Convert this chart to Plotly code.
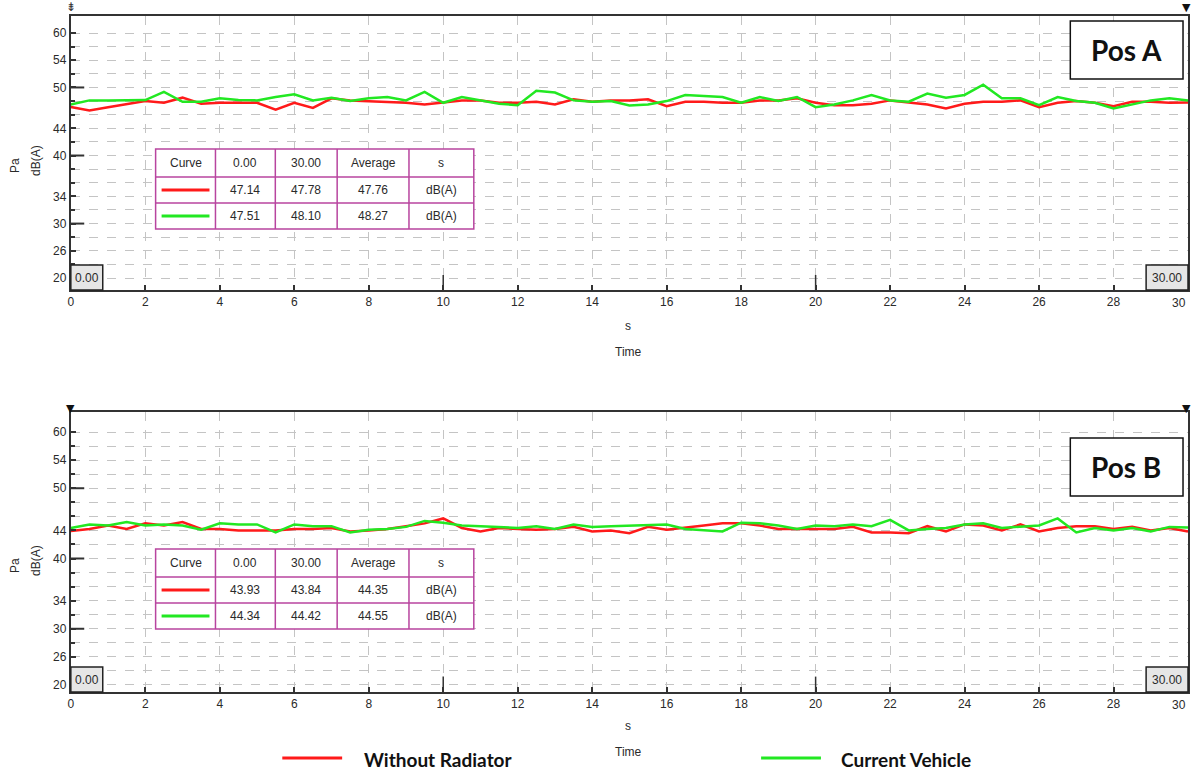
import plotly.graph_objects as go

W, H = 1192, 771

# ---------------- data ----------------
time_s = [i * 0.5 for i in range(61)]

posA_without_radiator = [
    47.14, 46.6, 47.1, 47.5, 48.0, 47.75, 48.5, 47.6, 47.75, 47.75,
    47.75, 46.75, 47.75, 47.0, 48.4, 48.1, 48.0, 47.9, 47.75, 47.5,
    47.75, 48.1, 48.1, 47.75, 47.75, 47.9, 47.5, 48.25, 47.9, 48.1,
    48.1, 48.25, 47.25, 47.9, 47.9, 47.75, 47.75, 48.1, 48.1, 48.4,
    47.75, 47.4, 47.4, 47.6, 48.1, 47.75, 47.5, 46.9, 47.6, 47.9,
    47.9, 48.1, 47.1, 47.75, 48.0, 47.75, 47.25, 47.9, 47.9, 47.75,
    47.78,
]
posA_current_vehicle = [
    47.51, 48.1, 48.1, 48.1, 48.15, 49.35, 47.9, 47.9, 48.4, 48.15,
    48.1, 48.6, 49.0, 48.1, 48.5, 48.0, 48.4, 48.6, 48.1, 49.35,
    47.75, 48.6, 48.1, 47.6, 47.4, 49.5, 49.25, 48.1, 47.9, 48.0,
    47.35, 47.5, 48.0, 48.9, 48.75, 48.6, 47.75, 48.6, 48.0, 48.6,
    47.1, 47.5, 48.1, 48.9, 48.1, 47.9, 49.1, 48.5, 48.9, 50.4,
    48.4, 48.4, 47.4, 48.6, 48.0, 47.75, 46.9, 47.5, 48.1, 48.4,
    48.10,
]
posB_without_radiator = [
    43.93, 44.2, 44.7, 44.2, 45.0, 44.7, 45.2, 44.2, 44.2, 44.0,
    44.0, 44.0, 44.2, 44.2, 44.35, 43.85, 44.0, 44.2, 44.6, 45.0,
    45.7, 44.35, 43.85, 44.35, 44.2, 44.1, 44.2, 44.5, 43.85, 44.0,
    43.6, 44.5, 44.1, 44.35, 44.7, 45.0, 45.0, 44.7, 44.2, 44.2,
    44.2, 44.2, 44.5, 43.7, 43.7, 43.6, 44.6, 43.85, 44.85, 44.7,
    44.0, 44.85, 43.85, 44.35, 44.6, 44.6, 44.2, 44.5, 44.0, 44.35,
    43.84,
]
posB_current_vehicle = [
    44.34, 44.85, 44.7, 45.2, 44.7, 44.85, 44.7, 44.1, 45.0, 44.85,
    44.85, 43.7, 44.85, 44.6, 44.6, 43.7, 44.1, 44.2, 44.5, 45.35,
    45.1, 44.7, 44.6, 44.5, 44.35, 44.6, 44.2, 44.85, 44.5, 44.6,
    44.7, 44.85, 44.85, 44.2, 44.0, 43.85, 45.1, 45.0, 44.7, 44.2,
    44.7, 44.6, 44.85, 44.6, 45.5, 44.0, 44.2, 44.35, 44.85, 45.0,
    44.35, 44.5, 44.7, 45.7, 43.7, 44.35, 44.0, 44.35, 43.85, 44.5,
    44.42,
]

series_names = ["Without Radiator", "Current Vehicle"]
series_colors = ["#ff1a1a", "#22e822"]

table_header = ["Curve", "0.00", "30.00", "Average", "s"]
tableA_rows = [["47.14", "47.78", "47.76", "dB(A)"],
               ["47.51", "48.10", "48.27", "dB(A)"]]
tableB_rows = [["43.93", "43.84", "44.35", "dB(A)"],
               ["44.34", "44.42", "44.55", "dB(A)"]]

y_tick_vals = [58, 54, 50, 44, 40, 34, 30, 26, 22]
y_tick_text = ["60", "54", "50", "44", "40", "34", "30", "26", "20"]
y_grid_vals = list(range(22, 59, 2))
x_tick_vals = list(range(0, 31, 2))
# the last label sits flush against the right edge, drawn separately
x_tick_text = [str(v) for v in x_tick_vals[:-1]] + [""]
x_last_label = str(x_tick_vals[-1])

# ---------------- helpers ----------------
def px(x):
    return x / W

def py(y):
    return 1 - y / H

FONT = "Liberation Sans"
TXT = "#2a2a2a"
X_RIGHT = 1188

def note(x, y, text, size=12, family=FONT, color=TXT, xanchor="center", **kw):
    return dict(x=px(x), y=py(y), xref="paper", yref="paper", text=text,
                showarrow=False, xanchor=xanchor, yanchor="middle",
                font=dict(family=family, size=size, color=color), **kw)

fig = go.Figure()

panels = [
    # axes, frame top/bottom px, label, table rows, vertical offset, label-box offset, data
    ("x", "y", 16, 290, "Pos A", tableA_rows, 0, 0, posA_without_radiator, posA_current_vehicle),
    ("x2", "y2", 412, 692, "Pos B", tableB_rows, 400, 417, posB_without_radiator, posB_current_vehicle),
]

shapes = []
annots = []

for xa, ya, top, bot, label, rows, off, boff, s_red, s_green in panels:
    for vals, name, col in zip([s_red, s_green], series_names, series_colors):
        fig.add_trace(go.Scatter(x=time_s, y=vals, mode="lines", name=name,
                                 line=dict(color=col, width=2.5),
                                 xaxis=xa, yaxis=ya, showlegend=False))

    # long ticks at 50, 40, 30
    for v in [50, 40, 30]:
        shapes.append(dict(type="line", xref=f"{xa} domain", yref=ya,
                           x0=0, x1=0.012, y0=v, y1=v,
                           line=dict(color="#333", width=2)))
    # long x ticks at 10 and 20
    for v in [10, 20]:
        shapes.append(dict(type="line", xref=xa, yref=f"{ya} domain",
                           x0=v, x1=v, y0=0, y1=0.055,
                           line=dict(color="#333", width=1.5)))

    # last x tick label, right aligned at the frame edge
    annots.append(note(X_RIGHT, bot + 13, x_last_label, xanchor="right"))

    # start / end boxes
    shapes.append(dict(type="rect", xref="paper", yref="paper",
                       x0=px(68), x1=px(100), y0=py(bot), y1=py(bot - 25),
                       fillcolor="#e6e6e6", line=dict(color="#222", width=1.5)))
    annots.append(note(84, bot - 12, "0.00"))
    shapes.append(dict(type="rect", xref="paper", yref="paper",
                       x0=px(X_RIGHT - 42), x1=px(X_RIGHT), y0=py(bot), y1=py(bot - 25),
                       fillcolor="#e6e6e6", line=dict(color="#222", width=1.5)))
    annots.append(note(X_RIGHT - 21, bot - 12, "30.00"))

    # position label box
    shapes.append(dict(type="rect", xref="paper", yref="paper",
                       x0=px(1070), x1=px(1183), y0=py(79 + boff), y1=py(21 + boff),
                       fillcolor="white", line=dict(color="#111", width=1.5)))
    annots.append(note(1126, 50 + boff, f"<b>{label}</b>", size=28,
                       family="Lato", color="#111"))

    # table
    cx = [153, 213, 273, 335, 407, 472]
    ry = [149 + off, 177 + off, 203 + off, 229 + off]
    shapes.append(dict(type="rect", xref="paper", yref="paper",
                       x0=px(cx[0]), x1=px(cx[-1]), y0=py(ry[-1]), y1=py(ry[0]),
                       fillcolor="white", line=dict(color="#b8449f", width=1.5)))
    for c in cx[1:-1]:
        shapes.append(dict(type="line", xref="paper", yref="paper",
                           x0=px(c), x1=px(c), y0=py(ry[-1]), y1=py(ry[0]),
                           line=dict(color="#b8449f", width=1.5)))
    for r in ry[1:-1]:
        shapes.append(dict(type="line", xref="paper", yref="paper",
                           x0=px(cx[0]), x1=px(cx[-1]), y0=py(r), y1=py(r),
                           line=dict(color="#b8449f", width=1.5)))
    for j, h in enumerate(table_header):
        annots.append(note((cx[j] + cx[j + 1]) / 2, (ry[0] + ry[1]) / 2, h))
    for i, row in enumerate(rows):
        yc = (ry[i + 1] + ry[i + 2]) / 2
        shapes.append(dict(type="line", xref="paper", yref="paper",
                           x0=px(159), x1=px(207), y0=py(yc), y1=py(yc),
                           line=dict(color=series_colors[i], width=3)))
        for j, v in enumerate(row):
            annots.append(note((cx[j + 1] + cx[j + 2]) / 2, yc, v))

    # axis titles
    annots.append(note(12, 165 + off, "Pa", textangle=-90))
    annots.append(note(33, 160 + off, "dB(A)", textangle=-90))
    annots.append(note(627, 326 + off, "s"))
    annots.append(note(627, 352 + off, "Time"))

# small markers on frame tops
annots.append(note(68, 7, "⇟", size=12, family="DejaVu Sans", color="#333"))
for (xx, yy) in [(X_RIGHT - 2, 8), (68, 408), (X_RIGHT - 2, 408)]:
    annots.append(note(xx, yy, "▼", size=11, family="DejaVu Sans", color="#111"))

# bottom legend
legend_items = [(280, 340, 360), (760, 820, 838)]
for (l0, l1, tx), name, col in zip(legend_items, series_names, series_colors):
    shapes.append(dict(type="line", xref="paper", yref="paper",
                       x0=px(l0), x1=px(l1), y0=py(758), y1=py(758),
                       line=dict(color=col, width=3)))
    annots.append(note(tx, 759, f"<b>{name}</b>", size=19, family="Lato",
                       color="#111", xanchor="left"))

def xaxis_cfg(anchor):
    return dict(range=[0, 30], tickmode="array", tickvals=x_tick_vals,
                ticktext=x_tick_text,
                ticks="inside", ticklen=5, tickwidth=1.5, tickcolor="#333",
                showline=True, linecolor="#333", linewidth=2, mirror=True,
                showgrid=True, gridcolor="#c4c4c4", griddash="dash", gridwidth=1,
                zeroline=False, anchor=anchor,
                tickfont=dict(family=FONT, size=12, color=TXT),
                domain=[px(68), px(X_RIGHT)])

def yaxis_cfg(anchor, dom, rng):
    return dict(range=rng, tickmode="array", tickvals=y_tick_vals,
                ticktext=y_tick_text, ticks="inside", ticklen=5, tickwidth=1.5,
                tickcolor="#333", showline=True, linecolor="#333", linewidth=2,
                mirror=True, showgrid=True, gridcolor="#c4c4c4", griddash="dash",
                gridwidth=1, zeroline=False, anchor=anchor, domain=dom,
                minor=dict(tickmode="array", tickvals=y_grid_vals, ticks="inside",
                           ticklen=4, tickcolor="#333", showgrid=True,
                           gridcolor="#c4c4c4", griddash="dash"),
                tickfont=dict(family=FONT, size=12, color=TXT))

fig.update_layout(
    width=W, height=H,
    margin=dict(l=0, r=0, t=0, b=0),
    paper_bgcolor="white", plot_bgcolor="white",
    xaxis=xaxis_cfg("y"),
    yaxis=yaxis_cfg("x", [py(290), py(16)], [20.24, 60.5]),
    xaxis2=xaxis_cfg("y2"),
    yaxis2=yaxis_cfg("x2", [py(692), py(412)], [21.0, 60.85]),
    shapes=shapes,
    annotations=annots,
    showlegend=False,
)

fig.write_html("out.html", config={"displayModeBar": False},
               post_script="document.body.style.margin='0';document.body.style.overflow='hidden';")
